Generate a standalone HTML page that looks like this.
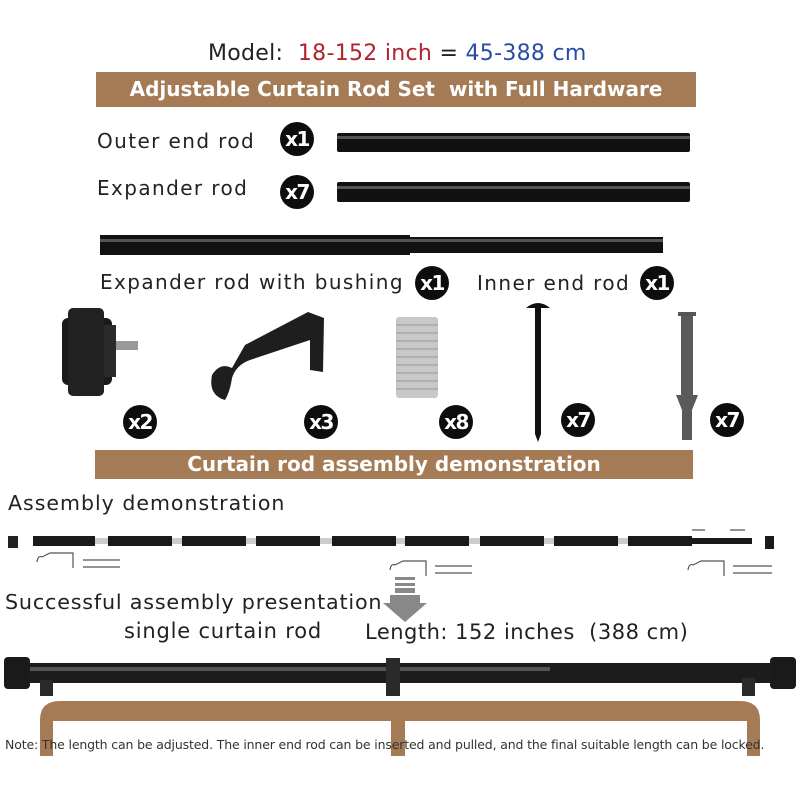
<!DOCTYPE html>
<html><head><meta charset="utf-8"><style>
body{margin:0;width:800px;height:800px;background:#fff;position:relative;overflow:hidden;font-family:"DejaVu Sans","Liberation Sans",sans-serif;}
.t{position:absolute;white-space:nowrap;color:#222;}
.b{position:absolute;background:#0d0d0d;color:#fff;border-radius:50%;width:34px;height:34px;font-weight:bold;font-size:20px;text-align:center;line-height:34px;letter-spacing:-1.5px;}
.ban{position:absolute;background:#a57b56;color:#fff;font-weight:bold;text-align:center;}
</style></head><body>
<div class="t" style="left:208px;top:41px;font-size:22px;letter-spacing:0.3px;">Model:&nbsp; <span style="color:#b0252b">18-152 inch</span> = <span style="color:#2b4ba6">45-388 cm</span></div>
<div class="ban" style="left:96px;top:72px;width:600px;height:35px;line-height:35px;font-size:20px;">Adjustable Curtain Rod Set&nbsp; with Full Hardware</div>
<div class="t" style="left:97px;top:129px;font-size:20px;letter-spacing:1.4px;">Outer end rod</div>
<div class="b" style="left:280px;top:122px;">x1</div>
<div class="t" style="left:97px;top:176px;font-size:20px;letter-spacing:1.4px;">Expander rod</div>
<div class="b" style="left:280px;top:175px;">x7</div>
<div class="t" style="left:100px;top:270px;font-size:20px;letter-spacing:1.4px;">Expander rod with bushing</div>
<div class="b" style="left:415px;top:266px;">x1</div>
<div class="t" style="left:477px;top:271px;font-size:20px;letter-spacing:1.4px;">Inner end rod</div>
<div class="b" style="left:640px;top:266px;">x1</div>
<div class="b" style="left:123px;top:405px;">x2</div>
<div class="b" style="left:304px;top:405px;">x3</div>
<div class="b" style="left:439px;top:405px;">x8</div>
<div class="b" style="left:561px;top:403px;">x7</div>
<div class="b" style="left:710px;top:403px;">x7</div>
<div class="ban" style="left:95px;top:450px;width:598px;height:29px;line-height:29px;font-size:20px;">Curtain rod assembly demonstration</div>
<div class="t" style="left:8px;top:491px;font-size:20.5px;letter-spacing:1px;">Assembly demonstration</div>
<div class="t" style="left:5px;top:590px;font-size:20.7px;letter-spacing:0.8px;">Successful assembly presentation</div>
<div class="t" style="left:124px;top:619px;font-size:21px;letter-spacing:0.8px;">single curtain rod</div>
<div class="t" style="left:365px;top:620px;font-size:21px;letter-spacing:0.5px;">Length: 152 inches&nbsp; (388 cm)</div>
<svg width="800" height="800" style="position:absolute;left:0;top:0" xmlns="http://www.w3.org/2000/svg">
<g fill="#111">
<rect x="337" y="133" width="353" height="19" rx="2"/>
<rect x="337" y="182" width="353" height="20" rx="2"/>
<rect x="100" y="235" width="310" height="20"/>
<rect x="410" y="237" width="253" height="16"/>
</g>
<rect x="337" y="136" width="353" height="3" fill="#555"/>
<rect x="337" y="186" width="353" height="3" fill="#555"/>
<rect x="100" y="239" width="563" height="3" fill="#555"/>
<rect x="62" y="318" width="50" height="67" rx="6" fill="#1a1a1a"/>
<rect x="68" y="308" width="36" height="88" rx="5" fill="#222"/>
<rect x="104" y="325" width="12" height="52" fill="#2a2a2a"/>
<rect x="116" y="341" width="22" height="9" fill="#999"/>
<path d="M308 312 L324 318 L323 372 L310 370 L310 340 L250 360 Q236 365 232 378 Q230 392 225 400 Q208 395 212 375 Q220 362 232 368 L245 345 Z" fill="#1e1e1e"/>
<rect x="396" y="317" width="42" height="81" rx="3" fill="#c8c8c8"/>
<g stroke="#999" stroke-width="1">
<line x1="396" y1="325" x2="438" y2="325"/><line x1="396" y1="333" x2="438" y2="333"/><line x1="396" y1="341" x2="438" y2="341"/><line x1="396" y1="349" x2="438" y2="349"/><line x1="396" y1="357" x2="438" y2="357"/><line x1="396" y1="365" x2="438" y2="365"/><line x1="396" y1="373" x2="438" y2="373"/><line x1="396" y1="381" x2="438" y2="381"/><line x1="396" y1="389" x2="438" y2="389"/>
</g>
<path d="M526 308 Q538 298 550 308 Z" fill="#111"/>
<rect x="535" y="306" width="6" height="128" fill="#111"/>
<path d="M535 434 L538 442 L541 434 Z" fill="#111"/>
<rect x="678" y="312" width="18" height="4" fill="#555"/>
<path d="M681 316 L693 316 L693 395 L698 395 L692 410 L692 440 L682 440 L682 410 L676 395 L681 395 Z" fill="#5a5a5a"/>
<rect x="8" y="536" width="10" height="12" fill="#222"/>
<g fill="#1a1a1a">
<rect x="33" y="536" width="62" height="10"/><rect x="108" y="536" width="64" height="10"/><rect x="182" y="536" width="64" height="10"/><rect x="256" y="536" width="64" height="10"/><rect x="332" y="536" width="64" height="10"/><rect x="405" y="536" width="64" height="10"/><rect x="480" y="536" width="64" height="10"/><rect x="554" y="536" width="64" height="10"/><rect x="628" y="536" width="64" height="10"/>
<rect x="692" y="538" width="60" height="6"/>
<rect x="765" y="536" width="9" height="13"/>
</g>
<g fill="#ccc"><rect x="95" y="538" width="13" height="6"/><rect x="172" y="538" width="10" height="6"/><rect x="246" y="538" width="10" height="6"/><rect x="320" y="538" width="12" height="6"/><rect x="396" y="538" width="9" height="6"/><rect x="469" y="538" width="11" height="6"/><rect x="544" y="538" width="10" height="6"/><rect x="618" y="538" width="10" height="6"/></g>
<g stroke="#555" fill="none" stroke-width="1.2">
<path d="M37 562 Q38 555 42 557 M42 557 L50 553 L73 553 L73 568"/><line x1="83" y1="560" x2="120" y2="560"/><line x1="83" y1="567" x2="120" y2="567"/>
<path d="M390 570 Q391 563 395 565 L403 561 L426 561 L426 576"/><line x1="435" y1="566" x2="472" y2="566"/><line x1="435" y1="573" x2="472" y2="573"/>
<path d="M688 570 Q689 563 693 565 L701 561 L724 561 L724 576"/><line x1="733" y1="566" x2="772" y2="566"/><line x1="733" y1="573" x2="772" y2="573"/>
<path d="M692 530 L705 530 M730 530 L745 530"/>
</g>
<rect x="395" y="577" width="20" height="3" fill="#888"/>
<rect x="395" y="583" width="20" height="3" fill="#888"/>
<rect x="395" y="588" width="20" height="5" fill="#888"/>
<path d="M390 595 L420 595 L420 603 L427 603 L405 622 L383 603 L390 603 Z" fill="#888"/>
<rect x="20" y="663" width="760" height="20" rx="3" fill="#1c1c1c"/>
<rect x="20" y="667" width="530" height="4" fill="#555"/>
<rect x="4" y="657" width="26" height="32" rx="4" fill="#1a1a1a"/>
<rect x="770" y="657" width="26" height="32" rx="4" fill="#1a1a1a"/>
<rect x="40" y="680" width="13" height="16" fill="#2a2a2a"/>
<rect x="386" y="658" width="14" height="38" fill="#2a2a2a"/>
<rect x="742" y="678" width="13" height="18" fill="#2a2a2a"/>
<path d="M40 756 L40 720 Q40 701 60 701 L740 701 Q760 701 760 720 L760 756 L747 756 L747 721 L405 721 L405 756 L391 756 L391 721 L53 721 L53 756 Z" fill="#a57b56"/>
</svg>
<div class="t" style="left:5px;top:737px;font-size:12.5px;letter-spacing:-0.15px;color:#333;">Note: The length can be adjusted. The inner end rod can be inserted and pulled, and the final suitable length can be locked.</div>
</body></html>
